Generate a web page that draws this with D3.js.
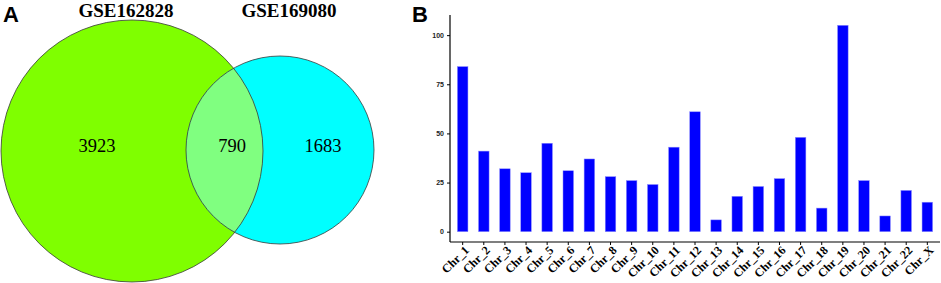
<!DOCTYPE html>
<html>
  <head>
    <meta charset="utf-8" />
    <style>
      body { margin: 0; background: #fff; }
    </style>
    <script src="https://d3js.org/d3.v7.min.js"></script>
  </head>
  <body>
    <div id="chart"></div>
    <script type="text/javascript">
      // Venn data
      var setNames = ["GSE162828", "GSE169080"];
      var setCounts = [3923, 790, 1683]; // left only, both, right only

      // Bar data
      var chromosomes = ["Chr_1", "Chr_2", "Chr_3", "Chr_4", "Chr_5", "Chr_6", "Chr_7", "Chr_8",
        "Chr_9", "Chr_10", "Chr_11", "Chr_12", "Chr_13", "Chr_14", "Chr_15", "Chr_16",
        "Chr_17", "Chr_18", "Chr_19", "Chr_20", "Chr_21", "Chr_22", "Chr_X"];
      var geneCounts = [84, 41, 32, 30, 45, 31, 37, 28, 26, 24, 43, 61, 6, 18, 23, 27, 48, 12, 105, 26, 8, 21, 15];
      var yTicks = [0, 25, 50, 75, 100];

      var w = 941, h = 283;
      var svg = d3.select("#chart").append("svg").attr("width", w).attr("height", h);

      // ---------- Panel A: Venn ----------
      var venn = svg.append("g");
      var left = { cx: 132, cy: 151, r: 131 };
      var right = { cx: 280, cy: 150, r: 94 };

      venn.append("circle")
        .attr("cx", left.cx).attr("cy", left.cy).attr("r", left.r)
        .attr("fill", "#7fff00");
      venn.append("circle")
        .attr("cx", right.cx).attr("cy", right.cy).attr("r", right.r)
        .attr("fill", "#00ffff");

      // overlap region
      venn.append("clipPath").attr("id", "clipLeft")
        .append("circle").attr("cx", left.cx).attr("cy", left.cy).attr("r", left.r);
      venn.append("circle")
        .attr("cx", right.cx).attr("cy", right.cy).attr("r", right.r)
        .attr("clip-path", "url(#clipLeft)")
        .attr("fill", "#80ff80");

      // outlines
      [left, right].forEach(function (c) {
        venn.append("circle")
          .attr("cx", c.cx).attr("cy", c.cy).attr("r", c.r)
          .attr("fill", "none")
          .attr("stroke", "#3a3a3a")
          .attr("stroke-width", 0.8);
      });

      venn.selectAll("text.setname")
        .data(setNames)
        .enter()
        .append("text")
        .attr("class", "setname")
        .attr("x", function (d, i) { return i == 0 ? 126 : 289; })
        .attr("y", 17)
        .attr("text-anchor", "middle")
        .attr("font-family", "Liberation Serif")
        .attr("font-weight", "bold")
        .attr("font-size", 19)
        .text(function (d) { return d; });

      var countX = [97, 232, 323];
      venn.selectAll("text.count")
        .data(setCounts)
        .enter()
        .append("text")
        .attr("class", "count")
        .attr("x", function (d, i) { return countX[i]; })
        .attr("y", 152)
        .attr("text-anchor", "middle")
        .attr("font-family", "Liberation Serif")
        .attr("font-size", 18.5)
        .text(function (d) { return d; });

      svg.append("text")
        .attr("x", 3).attr("y", 22)
        .attr("font-family", "Liberation Sans")
        .attr("font-weight", "bold")
        .attr("font-size", 22)
        .text("A");

      // ---------- Panel B: bars ----------
      svg.append("text")
        .attr("x", 412).attr("y", 22)
        .attr("font-family", "Liberation Sans")
        .attr("font-weight", "bold")
        .attr("font-size", 22)
        .text("B");

      var plotLeft = 450, plotRight = 940, plotTop = 15, plotBottom = 242;

      var x = d3.scaleBand()
        .domain(chromosomes)
        .range([plotLeft, plotRight])
        .paddingInner(0.5)
        .paddingOuter(0.35);

      var ymax = d3.max(geneCounts);
      var y = d3.scaleLinear()
        .domain([-ymax * 0.05, ymax * 1.05])
        .range([plotBottom, plotTop]);

      var bars = svg.append("g");
      bars.selectAll("rect")
        .data(geneCounts)
        .enter()
        .append("rect")
        .attr("x", function (d, i) { return x(chromosomes[i]); })
        .attr("width", x.bandwidth())
        .attr("y", function (d) { return y(d); })
        .attr("height", function (d) { return y(0) - y(d); })
        .attr("fill", "#0000ff")
        .attr("stroke", "#8f8fff")
        .attr("stroke-width", 0.5);

      var yAxis = svg.append("g")
        .attr("transform", "translate(" + plotLeft + ",0)")
        .call(d3.axisLeft(y).tickValues(yTicks).tickSize(3).tickPadding(3));
      yAxis.select(".domain").attr("d", "M0," + plotTop + "V" + plotBottom).attr("stroke-width", 1.2);
      yAxis.selectAll("text")
        .attr("fill", "#222")
        .attr("font-family", "Liberation Sans")
        .attr("font-weight", "bold")
        .attr("font-size", 7);

      var xAxis = svg.append("g")
        .attr("transform", "translate(0," + plotBottom + ")")
        .call(d3.axisBottom(x).tickSize(3).tickPadding(2));
      xAxis.select(".domain").attr("d", "M" + plotLeft + ",0H" + plotRight).attr("stroke-width", 1.2);
      xAxis.selectAll("text")
        .attr("fill", "#000")
        .attr("font-family", "Liberation Serif")
        .attr("font-weight", "bold")
        .attr("font-size", 12)
        .attr("text-anchor", "end")
        .attr("x", 0)
        .attr("y", 0)
        .attr("dy", "0.35em")
        .attr("transform", "translate(4,6) rotate(-45)");
    </script>
  </body>
</html>
